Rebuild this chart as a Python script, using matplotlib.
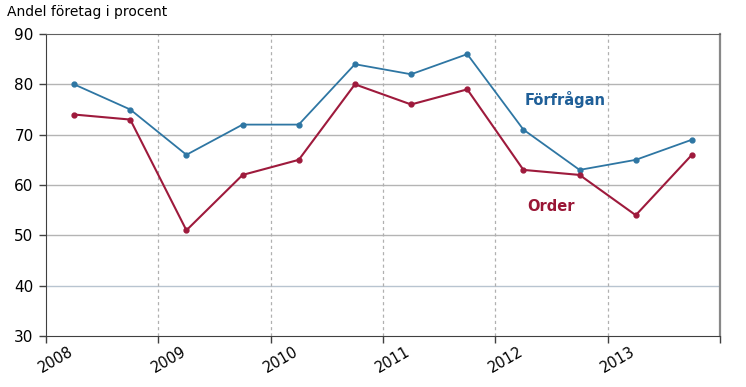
import matplotlib
matplotlib.use("Agg")
import matplotlib.pyplot as plt
import matplotlib.transforms as mtransforms
import numpy as np

years = ["2008", "2009", "2010", "2011", "2012", "2013"]
forfragan = [80, 75, 66, 72, 72, 84, 82, 86, 71, 63, 65, 69]
order = [74, 73, 51, 62, 65, 80, 76, 79, 63, 62, 54, 66]

x = np.arange(len(forfragan)) * 0.5 + 0.25

fig = plt.figure(figsize=(7.46, 3.87), dpi=100)
ax = fig.add_axes([46/746, 51/387, (720-46)/746, (336-34)/387])

ax.set_xlim(0, 6)
ax.set_ylim(30, 90)

for yv in [40, 50, 60, 70, 80]:
    ax.axhline(yv, color="#b8c4d0" if yv == 40 else "#b4b4b4", lw=1.0, zorder=1)
for xv in range(1, 6):
    ax.axvline(xv, color="#b0b0b0", lw=0.9, ls=(0, (2.5, 2.5)), zorder=1)

blue = "#2e76a3"
red = "#9e1a3c"
ax.plot(x, forfragan, color=blue, lw=1.3, marker="o", ms=3.5, zorder=3)
ax.plot(x, order, color=red, lw=1.5, marker="o", ms=3.5, zorder=3)

ax.text(4.62, 77, "Förfrågan", color="#1f5f98", fontsize=10.5, fontweight="bold",
        ha="center", va="center")
ax.text(4.5, 55.8, "Order", color="#9a1636", fontsize=10.5, fontweight="bold",
        ha="center", va="center")

ax.set_yticks([30, 40, 50, 60, 70, 80, 90])
ax.tick_params(axis="y", direction="out", length=5, width=1, color="#404040",
               labelsize=11, pad=4)
ax.set_xticks(range(0, 7))
ax.set_xticklabels(years + [""], rotation=30, fontsize=10.5)
ax.tick_params(axis="x", direction="out", length=5, width=1, color="#404040", pad=1)
offset = mtransforms.ScaledTranslation(10/100, 0, fig.dpi_scale_trans)
for lab in ax.get_xticklabels():
    lab.set_horizontalalignment("center")
    lab.set_transform(lab.get_transform() + offset)

ax.spines["left"].set_color("#404040")
ax.spines["bottom"].set_color("#404040")
ax.spines["top"].set_color("#606060")
ax.spines["right"].set_color("#888888")
ax.spines["right"].set_linewidth(1.6)

fig.text(7/746, 1 - 12/387, "Andel företag i procent", fontsize=10, ha="left", va="center")

fig.savefig("out.png", dpi=100)
